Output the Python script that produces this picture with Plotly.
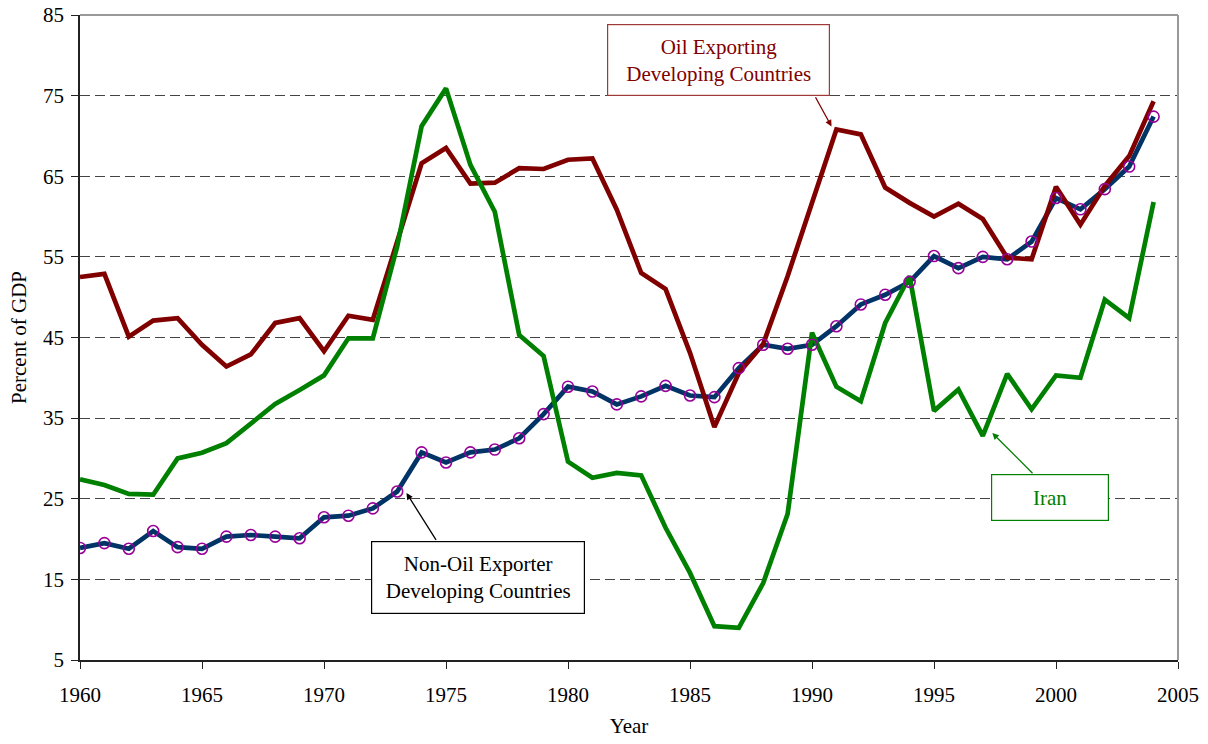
import plotly.graph_objects as go

years = list(range(1960, 2005))

non_oil = [18.9, 19.5, 18.8, 21.0, 19.0, 18.8, 20.3, 20.5, 20.3, 20.1,
           22.7, 22.9, 23.8, 25.9, 30.75, 29.5, 30.75, 31.1, 32.5, 35.5,
           38.9, 38.3, 36.7, 37.7, 39.0, 37.8, 37.6, 41.2, 44.1, 43.6,
           44.1, 46.4, 49.1, 50.3, 51.9, 55.1, 53.6, 55.0, 54.7, 56.9,
           62.3, 60.9, 63.4, 66.2, 72.4]

oil = [52.5, 52.9, 45.1, 47.1, 47.4, 44.1, 41.4, 42.9, 46.8, 47.4,
       43.3, 47.7, 47.2, 57.0, 66.6, 68.5, 64.1, 64.2, 66.0, 65.9,
       67.05, 67.2, 60.85, 53.0, 51.0, 43.1, 33.9, 40.6, 44.2, 52.6,
       61.7, 70.8, 70.2, 63.6, 61.7, 60.0, 61.6, 59.7, 54.9, 54.7,
       63.7, 59.0, 63.8, 67.5, 74.3]

iran = [27.4, 26.7, 25.6, 25.5, 30.0, 30.7, 31.9, 34.4, 36.75, 38.5,
        40.3, 44.9, 44.9, 56.3, 71.2, 75.9, 66.4, 60.6, 45.3, 42.7,
        29.6, 27.6, 28.2, 27.9, 21.4, 15.8, 9.2, 9.0, 14.55, 23.1,
        45.6, 38.9, 37.1, 46.8, 52.6, 35.9, 38.55, 32.8, 40.5, 36.1,
        40.3, 40.0, 49.7, 47.4, 61.8]

x_ticks = [1960, 1965, 1970, 1975, 1980, 1985, 1990, 1995, 2000, 2005]
y_ticks = [5, 15, 25, 35, 45, 55, 65, 75, 85]

FONT = "Liberation Serif"
BLUE = "#003366"
RED = "#800000"
GREEN = "#008000"
PURPLE = "#990099"

fig = go.Figure()
fig.add_trace(go.Scatter(x=years, y=non_oil, mode="lines",
                         line=dict(color=BLUE, width=4.7), hoverinfo="skip"))
fig.add_trace(go.Scatter(x=years, y=oil, mode="lines",
                         line=dict(color=RED, width=4.7), hoverinfo="skip"))
fig.add_trace(go.Scatter(x=years, y=iran, mode="lines",
                         line=dict(color=GREEN, width=4.7), hoverinfo="skip"))
fig.add_trace(go.Scatter(x=years, y=non_oil, mode="markers",
                         marker=dict(symbol="circle-open", size=11,
                                     color=PURPLE, line=dict(width=1.6, color=PURPLE)),
                         hoverinfo="skip"))

# frame (top/right grey)
fig.add_shape(type="line", xref="paper", yref="paper", x0=0, y0=1, x1=1, y1=1,
              line=dict(color="#999999", width=2), layer="above")
fig.add_shape(type="line", xref="paper", yref="paper", x0=1, y0=0, x1=1, y1=1,
              line=dict(color="#999999", width=2), layer="above")

# text boxes
fig.add_annotation(x=1986.18, y=79.46, xref="x", yref="y",
                   text="Oil Exporting<br>Developing Countries", showarrow=False,
                   font=dict(family=FONT, size=21, color=RED),
                   width=221, height=70, borderpad=0, borderwidth=1.2,
                   bordercolor="#A03838", bgcolor="white", align="center")
fig.add_annotation(x=1976.33, y=15.23, xref="x", yref="y",
                   text="Non-Oil Exporter<br>Developing Countries", showarrow=False,
                   font=dict(family=FONT, size=21, color="black"),
                   width=212, height=71, borderpad=0, borderwidth=1.2,
                   bordercolor="black", bgcolor="white", align="center")
fig.add_annotation(x=1999.74, y=25.1, xref="x", yref="y",
                   text="Iran", showarrow=False,
                   font=dict(family=FONT, size=21, color=GREEN),
                   width=116, height=45, borderpad=0, borderwidth=1.2,
                   bordercolor=GREEN, bgcolor="white", align="center")

# arrows
fig.add_annotation(x=1990.8, y=71.18, ax=1990.11, ay=74.98, xref="x", yref="y",
                   axref="x", ayref="y", text="", showarrow=True,
                   arrowhead=2, arrowsize=1, arrowwidth=1.3, arrowcolor=RED)
fig.add_annotation(x=1973.38, y=25.71, ax=1974.63, ay=19.71, xref="x", yref="y",
                   axref="x", ayref="y", text="", showarrow=True,
                   arrowhead=2, arrowsize=1, arrowwidth=1.3, arrowcolor="black")
fig.add_annotation(x=1997.39, y=33.15, ax=1999.1, ay=27.98, xref="x", yref="y",
                   axref="x", ayref="y", text="", showarrow=True,
                   arrowhead=2, arrowsize=1, arrowwidth=1.3, arrowcolor=GREEN)

fig.update_layout(
    width=1208, height=744,
    margin=dict(l=80, r=30, t=15, b=84, autoexpand=False),
    plot_bgcolor="white", paper_bgcolor="white",
    showlegend=False, hovermode=False,
    font=dict(family=FONT, size=21, color="black"),
)
fig.update_xaxes(range=[1960, 2005], tickvals=x_ticks, ticktext=[str(v) for v in x_ticks],
                 automargin=False,
                 showgrid=False, zeroline=False, showline=True, linecolor="#222222",
                 linewidth=1.5, ticks="outside", ticklen=7, tickcolor="#222222",
                 ticklabelstandoff=8,
                 tickfont=dict(family=FONT, size=21, color="black"),
                 title=dict(text="Year", standoff=12, font=dict(family=FONT, size=21)))
fig.update_yaxes(range=[5, 85], tickvals=y_ticks, ticktext=[str(v) for v in y_ticks],
                 automargin=False,
                 showgrid=True, gridcolor="#444444", gridwidth=1, griddash="10px,5px",
                 zeroline=False, showline=True, linecolor="#222222", linewidth=1.5,
                 ticks="outside", ticklen=7, tickcolor="#222222",
                 ticklabelstandoff=3,
                 tickfont=dict(family=FONT, size=21, color="black"),
                 title=dict(text="Percent of GDP", standoff=11, font=dict(family=FONT, size=21)))

fig.write_html("out.html", config={"displayModeBar": False},
               post_script="document.body.style.margin='0px';document.body.style.padding='0px';")
